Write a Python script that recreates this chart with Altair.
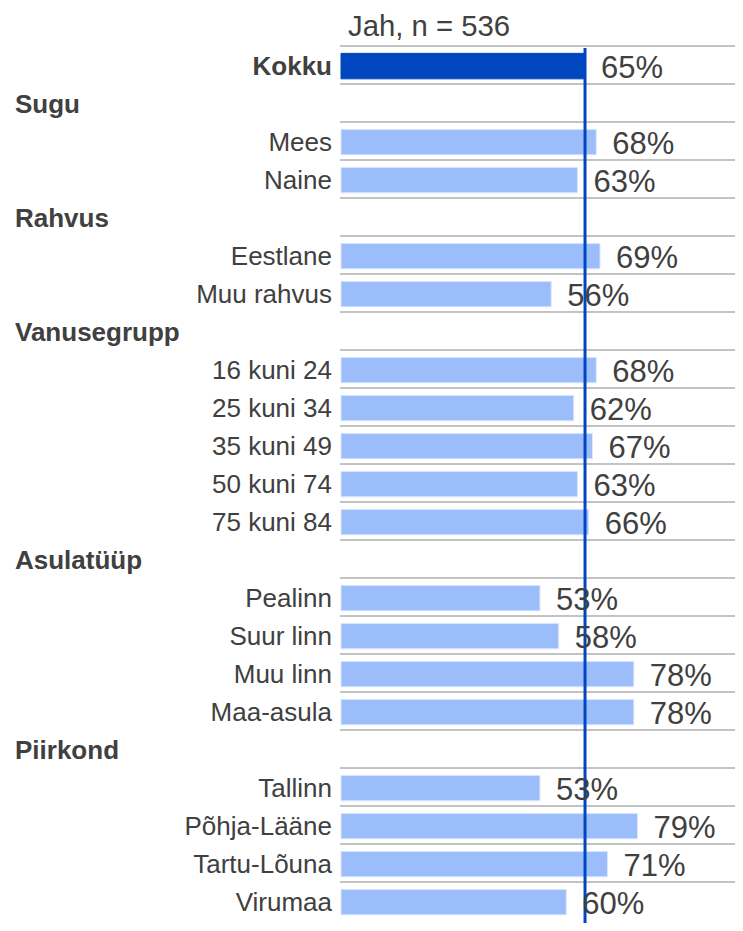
import altair as alt
import pandas as pd

# ---- data ----
rows = ["Kokku", "Sugu", "Mees", "Naine", "Rahvus", "Eestlane", "Muu rahvus",
        "Vanusegrupp", "16 kuni 24", "25 kuni 34", "35 kuni 49", "50 kuni 74",
        "75 kuni 84", "Asulatüüp", "Pealinn", "Suur linn", "Muu linn", "Maa-asula",
        "Piirkond", "Tallinn", "Põhja-Lääne", "Tartu-Lõuna", "Virumaa"]
kinds = ["total", "header", "item", "item", "header", "item", "item",
         "header", "item", "item", "item", "item",
         "item", "header", "item", "item", "item", "item",
         "header", "item", "item", "item", "item"]
values = [65, None, 68, 63, None, 69, 56,
          None, 68, 62, 67, 63,
          66, None, 53, 58, 78, 78,
          None, 53, 79, 71, 60]
title_text = ["Jah, n = 536"]
reference_row = "Kokku"

df = pd.DataFrame({"row": rows, "kind": kinds, "value": values})
title_df = pd.DataFrame({"t": title_text})

W, H = 394, 877
STEP = 38.0
FONT = "Liberation Sans"
TXT = "#404040"
DARK = "#0047BF"
LIGHT = "#9BBEFA"

yscale = alt.Scale(range=[0, STEP * len(rows)], paddingInner=0, paddingOuter=0)
xscale = alt.Scale(domain=[0, 104.95])


def yenc(**kw):
    return alt.Y("row:N", sort=rows, scale=yscale, axis=None, **kw)


base = alt.Chart(df)

grid = base.mark_rule(color="#C3C3C3", strokeWidth=2).encode(
    y=yenc(bandPosition=0),
    x=alt.value(-1),
    x2=alt.value(W),
)

bars = base.transform_filter("isValid(datum.value)").mark_bar(
    size=25.5, yOffset=1.1, strokeWidth=1
).encode(
    x=alt.X("value:Q", scale=xscale, axis=None),
    y=yenc(),
    color=alt.Color("kind:N", scale=alt.Scale(domain=["total", "item"], range=[DARK, LIGHT]), legend=None),
    stroke=alt.Stroke("kind:N", scale=alt.Scale(domain=["total", "item"], range=[DARK, "#DCE8FE"]), legend=None),
)

refline = base.transform_filter(alt.datum.row == reference_row).mark_rule(
    color=DARK, strokeWidth=3
).encode(
    x=alt.X("value:Q", scale=xscale, axis=None),
    y=alt.value(2),
    y2=alt.value(H),
)

value_text = base.transform_filter("isValid(datum.value)").transform_calculate(
    lbl="format(datum.value, '.0f') + '%'"
).mark_text(
    align="left", baseline="alphabetic", dx=16, dy=12.6, fontSize=31, font=FONT, color=TXT
).encode(
    x=alt.X("value:Q", scale=xscale, axis=None),
    y=yenc(),
    text="lbl:N",
)

item_labels = base.transform_filter(alt.datum.kind == "item").mark_text(
    align="right", baseline="alphabetic", dy=10.2, fontSize=26, font=FONT, color=TXT
).encode(
    x=alt.value(-9),
    y=yenc(),
    text="row:N",
)

total_labels = base.transform_filter(alt.datum.kind == "total").mark_text(
    align="right", baseline="alphabetic", dy=10.2, fontSize=26, fontWeight="bold", font=FONT, color=TXT
).encode(
    x=alt.value(-9),
    y=yenc(),
    text="row:N",
)

header_labels = base.transform_filter(alt.datum.kind == "header").mark_text(
    align="left", baseline="alphabetic", dy=10.2, fontSize=26, fontWeight="bold", font=FONT, color=TXT
).encode(
    x=alt.value(-326),
    y=yenc(),
    text="row:N",
)

title = alt.Chart(title_df).mark_text(
    align="left", baseline="alphabetic", fontSize=29.3, font=FONT, color=TXT
).encode(
    x=alt.value(7),
    y=alt.value(-10),
    text="t:N",
)

chart = alt.layer(
    grid, bars, refline, value_text, item_labels, total_labels, header_labels, title
).properties(
    width=W,
    height=H,
    padding={"left": 333, "top": 38, "right": 0, "bottom": 0},
    autosize=alt.AutoSizeParams(type="none"),
).configure_view(stroke=None)

chart.save("out.html", embed_options={"renderer": "svg", "actions": False})
